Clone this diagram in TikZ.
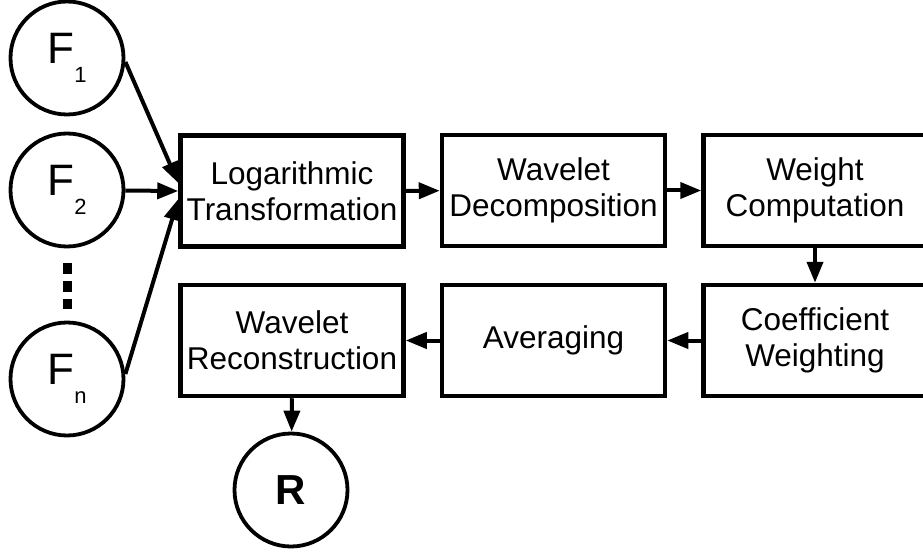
\documentclass[tikz,border=0pt]{standalone}
\usepackage{fontspec}
\setmainfont{Liberation Sans}
\usetikzlibrary{arrows.meta}
\tikzset{
  procbox/.style={draw, line width=4.5pt, minimum width=223pt, minimum height=111pt, inner sep=0pt, align=center, font=\fontsize{31.5}{36}\selectfont},
  signal/.style={draw, circle, line width=3.8pt, minimum size=113pt, inner sep=0pt},
  arr/.style={line width=4pt, -{Triangle[length=21pt, width=16pt]}},
}
\newcommand{\flabel}[1]{\fontsize{44}{44}\selectfont F\raisebox{-19pt}{\fontsize{22}{22}\selectfont #1}}
\begin{document}
\begin{tikzpicture}[x=1pt, y=-1pt]
\useasboundingbox (0,0) rectangle (923,556);
\node[signal] (f1) at (67,58) {\flabel{1}};
\node[signal] (f2) at (67,190) {\flabel{2}};
\node[signal] (fn) at (67,379) {\flabel{n}};
\coordinate (d1) at (67,263);
\coordinate (d2) at (67,309);
\draw[line width=9pt, dash pattern=on 11pt off 7pt] (d1) -- (d2);
\node[procbox] (log) at (292,191) {Logarithmic\\Transformation};
\node[procbox] (wdec) at (553.5,190.5) {Wavelet\\Decomposition};
\node[procbox] (wcomp) at (815,190.5) {Weight\\Computation};
\node[procbox] (coef) at (815,340.5) {Coefficient\\Weighting};
\node[procbox] (avg) at (553.5,340.5) {Averaging};
\node[procbox] (wrec) at (292,340.5) {Wavelet\\Reconstruction};
\node[signal] (r) at (291,490) {\fontsize{42}{42}\selectfont\bfseries R};
\draw[arr] ([yshift=-4pt]f1.east) -- ([yshift=8pt]log.west);
\draw[arr] (f2) -- (log.west);
\draw[arr] ([yshift=5pt]fn.east) -- ([yshift=-8pt]log.west);
\draw[arr] (log) -- (wdec);
\draw[arr] (wdec) -- (wcomp);
\draw[arr] (wcomp) -- (coef);
\draw[arr] (coef) -- (avg);
\draw[arr] (avg) -- (wrec);
\draw[arr] (wrec.south) -- (r);
\end{tikzpicture}
\end{document}
